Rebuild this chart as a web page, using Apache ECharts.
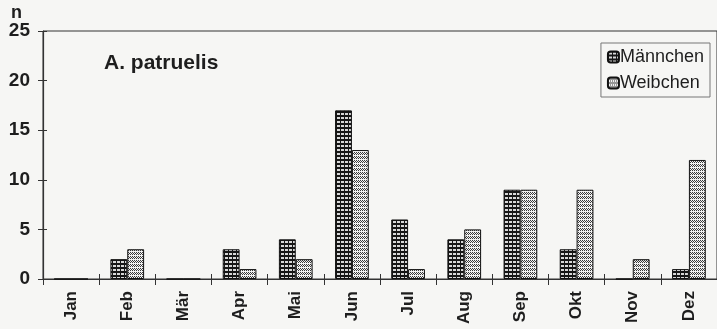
<!DOCTYPE html>
<html><head><meta charset="utf-8">
<script src="https://cdn.jsdelivr.net/npm/echarts@6/dist/echarts.min.js"></script>
<style>html,body{margin:0;padding:0;background:#f6f6f4}#c{width:717px;height:329px}</style>
</head><body><div id="c"></div>
<script>
const categories = ['Jan','Feb','Mär','Apr','Mai','Jun','Jul','Aug','Sep','Okt','Nov','Dez'];
const maennchen = [0,2,0,3,4,17,6,4,9,3,0,1];
const weibchen  = [0,3,0,1,2,13,1,5,9,9,2,12];
const yTicks = [0,5,10,15,20,25];

function makePattern(kind){
  const c = document.createElement('canvas');
  c.width = 4; c.height = 4;
  const g = c.getContext('2d');
  if(kind==='grid'){
    g.fillStyle='#161616'; g.fillRect(0,0,4,4);
    g.fillStyle='#d8d8d8'; g.fillRect(1,1,3,2);
  } else {
    g.fillStyle='#f2f2f2'; g.fillRect(0,0,4,4);
    g.fillStyle='#3a3a3a';
    g.fillRect(0,0,1,1); g.fillRect(2,0,1,1);
    g.fillRect(1,1,1,1); g.fillRect(3,1,1,1);
    g.fillRect(0,2,1,1); g.fillRect(2,2,1,1);
  }
  return {image:c, repeat:'repeat'};
}

const chart = echarts.init(document.getElementById('c'));
const txt = '#1e1e1e';
const ff = 'Liberation Sans, Arial, sans-serif';
chart.setOption({
  backgroundColor:'#f6f6f4',
  animation:false,
  textStyle:{fontFamily:ff, color:txt},
  title:{text:'A. patruelis', left:99, top:48,
    textStyle:{fontSize:21, fontWeight:'bold', color:txt, fontFamily:ff}},
  legend:{orient:'vertical', right:7, top:43, padding:[5,6,5,6], itemGap:8,
    itemWidth:11, itemHeight:11, borderColor:'#777', borderWidth:1,
    textStyle:{fontSize:18, color:txt, padding:[0,0,0,-4]},
    data:['Männchen','Weibchen']},
  grid:{left:43, right:-3, top:31, bottom:50, show:true, borderColor:'#333', borderWidth:1, backgroundColor:'transparent'},
  xAxis:[{type:'category', data:categories, boundaryGap:true,
    axisLine:{lineStyle:{color:'#333', width:1.2}},
    axisTick:{show:true, length:6, lineStyle:{color:'#333'}},
    axisLabel:{rotate:90, fontSize:17, fontWeight:'bold', color:txt, margin:12}},
    {type:'category', data:categories, boundaryGap:true, position:'bottom',
    axisLine:{show:false}, axisLabel:{show:false},
    axisTick:{show:true, inside:true, length:5, lineStyle:{color:'#333'}}}],
  yAxis:[{type:'value', min:yTicks[0], max:yTicks[yTicks.length-1], interval:5,
    name:'n', nameLocation:'end', nameGap:5,
    nameTextStyle:{fontSize:18, fontWeight:'bold', color:txt, align:'right', padding:[0,21,0,0]},
    splitLine:{show:false},
    axisLine:{show:true, lineStyle:{color:'#333', width:1.2}},
    axisTick:{show:true, length:5, lineStyle:{color:'#333'}},
    axisLabel:{fontSize:19, fontWeight:'bold', color:txt, margin:13}},
    {type:'value', min:yTicks[0], max:yTicks[yTicks.length-1], interval:5, position:'left',
    splitLine:{show:false}, axisLine:{show:false}, axisLabel:{show:false},
    axisTick:{show:true, inside:true, length:4, lineStyle:{color:'#333'}}}],
  series:[
    {name:'Männchen', type:'bar', data:maennchen, barGap:'0%', barCategoryGap:'40%',
      itemStyle:{color:makePattern('grid'), borderColor:'#111', borderWidth:1}},
    {name:'Weibchen', type:'bar', data:weibchen, barGap:'0%', barCategoryGap:'40%',
      itemStyle:{color:makePattern('dots'), borderColor:'#111', borderWidth:1}}
  ]
});
</script></body></html>
